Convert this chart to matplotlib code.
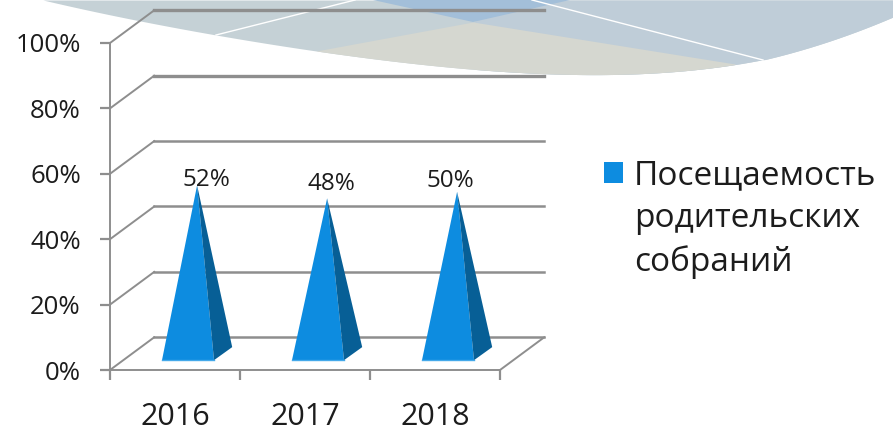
import matplotlib
matplotlib.use("Agg")
import matplotlib.pyplot as plt
import numpy as np

years = ["2016", "2017", "2018"]
attendance = [52, 48, 50]
y_ticks = [0, 20, 40, 60, 80, 100]
y_labels = ["0%", "20%", "40%", "60%", "80%", "100%"]
series_name = "Посещаемость\nродительских\nсобраний"

W, H = 893, 436
GRID = "#8e8e8e"
FRONT = "#0d8ce0"
SIDE = "#075f96"
TEXT = "#1c1c1c"

plt.rcParams['font.family'] = ['Open Sans', 'DejaVu Sans']
fig = plt.figure(figsize=(W / 100, H / 100), dpi=100)

# background swoosh, in pixels
bg = fig.add_axes([0, 0, 1, 1])
bg.set_xlim(0, W)
bg.set_ylim(H, 0)
bg.axis("off")
left_fit = np.polyfit([43, 216, 316, 473, 592, 735, 763], [0, 35, 51, 69, 75, 64, 60], 4)
right_fit = np.polyfit([763, 830, 893], [60, 41, 17], 2)


def swoosh(x):
    return np.where(x < 763, np.polyval(left_fit, x), np.polyval(right_fit, x))


bx = np.linspace(43, 893, 300)
by = swoosh(bx)
bg.fill_between(bx, 0, by, color="#c5d1d6", lw=0)
mask = (bx >= 473)
bg.fill_between(bx[mask], 0, by[mask], color="#bfcdd8", lw=0)
tx = np.linspace(316, 735, 200)
top = np.interp(tx, [316, 473, 735], [51, 22, 64])
bg.fill_between(tx, top, swoosh(tx), color="#d5d7d0", lw=0)
bg.fill([373, 473, 570], [0, 22, 0], color="#a3bfd9", lw=0)
bg.plot([216, 355], [35, 0], color="white", lw=1)
bg.plot([532, 763], [0, 60], color="white", lw=1)

# front plane of the 3d box is the real axes
ax = fig.add_axes([110 / W, (H - 370) / H, 390 / W, 327 / H])
ax.patch.set_alpha(0)
ax.set_xlim(0, 3)
ax.set_ylim(0, 100)
for s in ["top", "right"]:
    ax.spines[s].set_visible(False)
for s in ["left", "bottom"]:
    ax.spines[s].set_color(GRID)
    ax.spines[s].set_linewidth(1.4)

ax.set_yticks(y_ticks)
ax.set_yticklabels(y_labels, fontsize=18.5, color=TEXT)
ax.tick_params(axis="y", length=7, width=1.6, color=GRID, pad=14)
ax.set_xticks(range(len(years) + 1))
ax.set_xticklabels([])
ax.tick_params(axis="x", which="major", length=7, width=1.6, color=GRID)
ax.set_xticks(np.arange(len(years)) + 0.5, minor=True)
ax.set_xticklabels(years, minor=True, fontsize=22, color=TEXT)
ax.tick_params(axis="x", which="minor", length=0, pad=23)

# walls and floor
dx, dy = 0.34, 10
for v in y_ticks:
    ax.plot([0, dx], [v, v + dy], color=GRID, lw=1.4, clip_on=False, zorder=1)
    ax.plot([dx, 3 + dx], [v + dy, v + dy], color=GRID, lw=2.4 if v >= 80 else 1.8, clip_on=False, zorder=1)
ax.plot([3, 3 + dx], [0, dy], color=GRID, lw=1.4, clip_on=False, zorder=1)

# pyramids
label_shift = [0.07, 0.03, -0.05]
label_y = [1.6, 4.4, 3.3]
for i, v in enumerate(attendance):
    peak = v + 4.5
    ax.fill([i + 0.4, i + 0.8, i + 0.67], [3, 3, peak], color=FRONT, lw=0, zorder=3)
    ax.fill([i + 0.8, i + 0.94, i + 0.67], [3, 7, peak], color=SIDE, lw=0, zorder=3)
    ax.plot([i + 0.4, i + 0.8], [3, 3], color="#45a9ea", lw=1, zorder=4)
    ax.text(i + 0.67 + label_shift[i], peak + label_y[i], f"{v}%", ha="center", va="center",
            fontsize=17.5, color=TEXT, zorder=5, clip_on=False)

# legend
bg.fill([604, 623, 623, 604], [162, 162, 183, 183], color=FRONT, lw=0)
bg.text(634, 219, series_name, fontsize=24, color=TEXT, va="center", ha="left", linespacing=1.38)

fig.savefig("out.png", dpi=100)
